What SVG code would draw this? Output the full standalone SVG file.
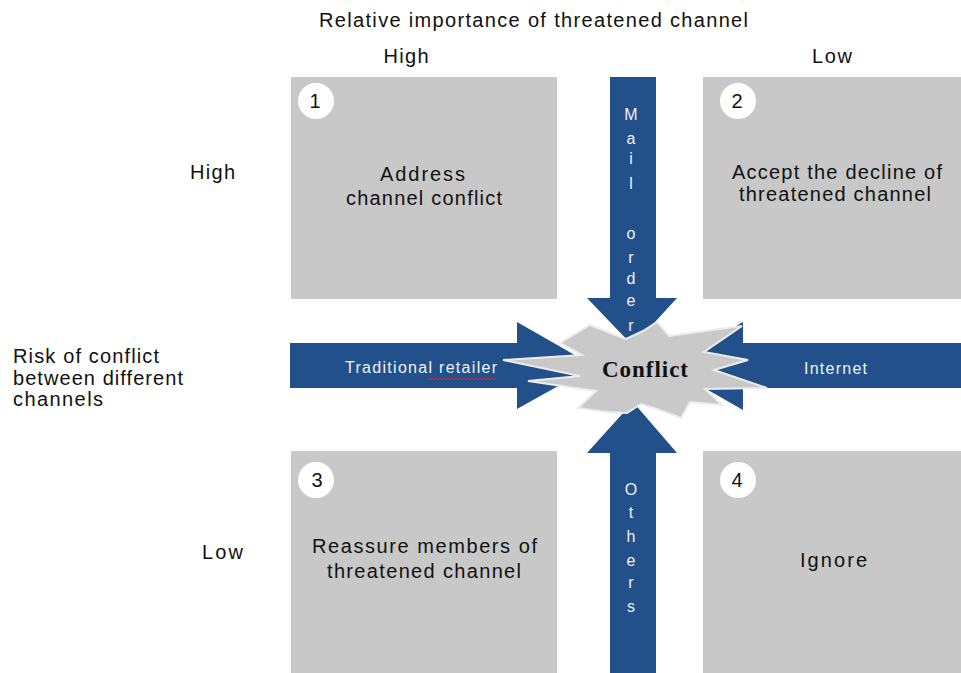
<svg xmlns="http://www.w3.org/2000/svg" width="961" height="673" viewBox="0 0 961 673">
  <style>
    .label { font-family: "Liberation Sans", Arial, sans-serif; fill: #111; }
    .axis { font-size: 20px; }
    .box { fill: #c8c8c8; }
    .boxtext { font-size: 20px; text-anchor: middle; }
    .badge { fill: #ffffff; }
    .num { font-size: 20px; text-anchor: middle; }
    .arrow { fill: #22508a; }
    .inarrow { font-family: "Liberation Sans", Arial, sans-serif; fill: #eef2f7; font-size: 16px; }
    .vletter { font-family: "Liberation Sans", Arial, sans-serif; fill: #eef2f7; font-size: 16px; text-anchor: middle; }
    .burst { fill: #c9c9c9; stroke: #ececec; stroke-width: 2; stroke-linejoin: miter; }
  </style>

  <rect width="961" height="673" fill="#ffffff"/>

  <!-- axis titles -->
  <g id="axis-top">
    <text class="label axis" x="533.5" y="27" text-anchor="middle" font-size="21" textLength="429" lengthAdjust="spacing">Relative importance of threatened channel</text>
    <text class="label axis" x="406" y="63" text-anchor="middle" textLength="45" lengthAdjust="spacing">High</text>
    <text class="label axis" x="832" y="63" text-anchor="middle" textLength="40" lengthAdjust="spacing">Low</text>
  </g>
  <g id="axis-left">
    <text class="label axis" x="190" y="179" textLength="45" lengthAdjust="spacing">High</text>
    <text class="label axis" x="202" y="559" textLength="41" lengthAdjust="spacing">Low</text>
    <text class="label" font-size="20" x="13" y="363" textLength="146" lengthAdjust="spacing">Risk of conflict</text>
    <text class="label" font-size="20" x="13" y="384.5" textLength="170" lengthAdjust="spacing">between different</text>
    <text class="label" font-size="20" x="13" y="406" textLength="90" lengthAdjust="spacing">channels</text>
  </g>

  <!-- quadrants -->
  <g id="quadrant-1">
    <rect class="box" x="291" y="77" width="266" height="222"/>
    <circle class="badge" cx="316" cy="101" r="18"/>
    <text class="label num" x="315" y="108">1</text>
    <text class="label boxtext" x="422.5" y="181" textLength="85" lengthAdjust="spacing">Address</text>
    <text class="label boxtext" x="424" y="205" textLength="156" lengthAdjust="spacing">channel conflict</text>
  </g>
  <g id="quadrant-2">
    <rect class="box" x="703" y="77" width="258" height="222"/>
    <circle class="badge" cx="738" cy="101" r="18"/>
    <text class="label num" x="737" y="108">2</text>
    <text class="label boxtext" x="837" y="179" textLength="210" lengthAdjust="spacing">Accept the decline of</text>
    <text class="label boxtext" x="835" y="201" textLength="192" lengthAdjust="spacing">threatened channel</text>
  </g>
  <g id="quadrant-3">
    <rect class="box" x="291" y="451" width="266" height="222"/>
    <circle class="badge" cx="316" cy="480" r="18"/>
    <text class="label num" x="317" y="487">3</text>
    <text class="label boxtext" x="424.5" y="553" textLength="225" lengthAdjust="spacing">Reassure members of</text>
    <text class="label boxtext" x="424" y="578" textLength="194" lengthAdjust="spacing">threatened channel</text>
  </g>
  <g id="quadrant-4">
    <rect class="box" x="703" y="451" width="258" height="222"/>
    <circle class="badge" cx="738" cy="480" r="18"/>
    <text class="label num" x="737" y="487">4</text>
    <text class="label boxtext" x="833.5" y="567" textLength="67" lengthAdjust="spacing">Ignore</text>
  </g>

  <!-- channel arrows pointing into the conflict -->
  <g id="connectors">
    <polygon id="arrow-mail-order" class="arrow" points="610,77 656,77 656,298 677,298 633,346 587,298 610,298"/>
    <polygon id="arrow-others" class="arrow" points="610,673 656,673 656,453 677,453 633,402 587,453 610,453"/>
    <polygon id="arrow-traditional" class="arrow" points="290,343 517,343 517,322 594,366 517,409 517,388 290,388"/>
    <polygon id="arrow-internet" class="arrow" points="961,343 743,343 743,322 666,366 743,410 743,388 961,388"/>
  </g>

  <!-- conflict burst -->
  <g id="conflict">
    <polygon class="burst" points="590,325 615,335 626,339 643,331 657,322 669,336 742,326 704,352 748,360 714,370 767,388 705,389 722,405 690,402 681,418 657,409 641,404 627,413 608,412 578,408 596,391 528,381 580,376 503,360 582,355 560,343"/>
    <text x="645" y="377" text-anchor="middle" font-family="'Liberation Serif', 'Times New Roman', serif" font-weight="bold" font-size="23" fill="#111" textLength="86" lengthAdjust="spacing">Conflict</text>
  </g>

  <!-- arrow labels -->
  <g id="label-mail-order">
    <text class="vletter" x="631" y="120">M</text>
    <text class="vletter" x="631" y="144">a</text>
    <text class="vletter" x="631" y="164">i</text>
    <text class="vletter" x="631" y="189">l</text>
    <text class="vletter" x="631" y="239">o</text>
    <text class="vletter" x="631" y="263">r</text>
    <text class="vletter" x="631" y="284">d</text>
    <text class="vletter" x="631" y="306">e</text>
    <text class="vletter" x="631" y="331">r</text>
  </g>
  <g id="label-others">
    <text class="vletter" x="631" y="495">O</text>
    <text class="vletter" x="631" y="518">t</text>
    <text class="vletter" x="631" y="542">h</text>
    <text class="vletter" x="631" y="566">e</text>
    <text class="vletter" x="631" y="588">r</text>
    <text class="vletter" x="631" y="612">s</text>
  </g>
  <g id="label-traditional">
    <text class="inarrow" x="345" y="373" textLength="152" lengthAdjust="spacing">Traditional retailer</text>
    <polyline points="428,378 430,380 432,378 434,380 436,378 438,380 440,378 442,380 444,378 446,380 448,378 450,380 452,378 454,380 456,378 458,380 460,378 462,380 464,378 466,380 468,378 470,380 472,378 474,380 476,378 478,380 480,378 482,380 484,378 486,380 488,378 490,380 492,378 494,380 496,378" fill="none" stroke="#e0202a" stroke-width="1"/>
  </g>
  <g id="label-internet">
    <text class="inarrow" x="804" y="374" textLength="63" lengthAdjust="spacing">Internet</text>
  </g>
</svg>
